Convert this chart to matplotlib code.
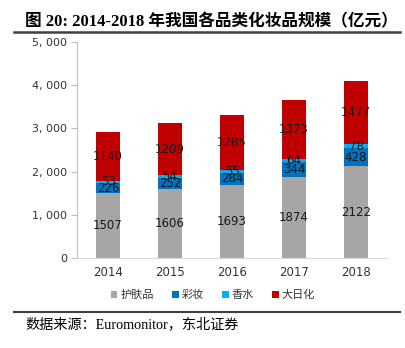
import matplotlib
matplotlib.use("Agg")
import matplotlib.pyplot as plt
from matplotlib.ticker import FuncFormatter
import numpy as np

plt.rcParams['font.family'] = ['DejaVu Sans', 'Noto Sans CJK SC']

years = ['2014', '2015', '2016', '2017', '2018']
series_names = ['护肤品', '彩妆', '香水', '大日化']
skincare = [1507, 1606, 1693, 1874, 2122]
makeup = [226, 252, 284, 344, 428]
perfume = [53, 54, 55, 64, 78]
daily = [1140, 1209, 1285, 1373, 1477]
colors = ['#A6A6A6', '#0070C0', '#00B0F0', '#C00000']

fig = plt.figure(figsize=(4.05, 3.48), dpi=100)
ax = fig.add_axes([77/405, 1-258/348, (387-77)/405, (258-42)/348])

x = np.arange(len(years))
bottom = np.zeros(len(years))
handles = []
for name, vals, c in zip(series_names, [skincare, makeup, perfume, daily], colors):
    vals = np.array(vals, dtype=float)
    b = ax.bar(x, vals, 0.4, bottom=bottom, color=c, label=name, zorder=2)
    handles.append(b)
    for xi, v, bt in zip(x, vals, bottom):
        ax.text(xi, bt + v/2, f"{int(v)}", ha='center', va='center', fontsize=8.5,
                color='#1a1a1a', zorder=3)
    bottom += vals

ax.set_xlim(-0.5, 4.5)
ax.set_ylim(0, 5000)
ax.set_yticks(range(0, 5001, 1000))
ax.yaxis.set_major_formatter(FuncFormatter(lambda v, p: f"{int(v):,}".replace(',', ', ')))
ax.set_xticks(x)
ax.set_xticklabels(years)
for s in ['top', 'right']:
    ax.spines[s].set_visible(False)
ax.spines['left'].set_color('#BFBFBF')
ax.spines['bottom'].set_color('#D9D9D9')
ax.tick_params(axis='y', length=4, color='#BFBFBF', labelsize=8, labelcolor='#333333', pad=3)
ax.tick_params(axis='x', length=0, labelsize=8.5, labelcolor='#333333', pad=6)

leg = fig.legend(handles=handles, labels=series_names, loc='center', bbox_to_anchor=(213/405, 1-295/348),
                 ncol=4, frameon=False, handlelength=0.6, handleheight=0.6,
                 handletextpad=0.3, columnspacing=1.6, prop={'family': 'Noto Sans CJK SC', 'size': 8})
for t in leg.get_texts():
    t.set_color('#333333')

fig.text(25/405, 1-22/348, '图 20: 2014-2018 年我国各品类化妆品规模（亿元）', fontsize=12,
         fontweight='bold', va='center', ha='left', family=['Liberation Serif', 'Noto Sans CJK SC'])
fig.add_artist(plt.Line2D([14/405, 400/405], [1-32/348, 1-32/348], color='#404040', lw=1.8))
fig.add_artist(plt.Line2D([14/405, 400/405], [1-312/348, 1-312/348], color='#404040', lw=1.5))
fig.text(25/405, 1-324/348, '数据来源：Euromonitor，东北证券', fontsize=10.2, va='center', ha='left',
         family=['Liberation Serif', 'Noto Sans CJK SC'])

fig.savefig('out.png', dpi=100)
